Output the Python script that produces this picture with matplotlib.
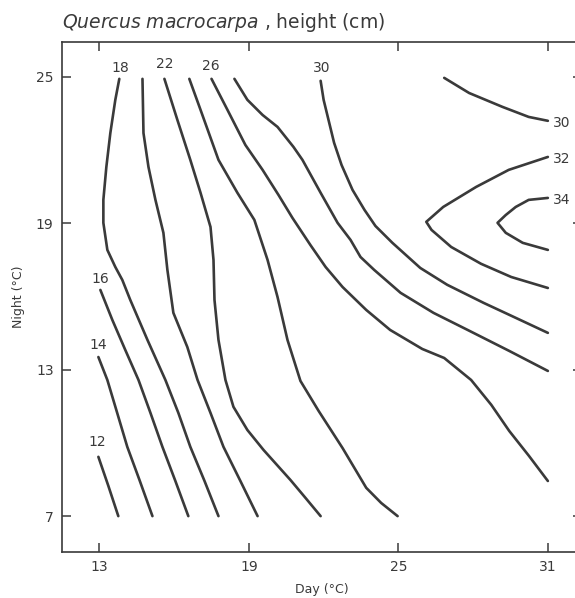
import numpy as np
import matplotlib
matplotlib.use('Agg')
import matplotlib.pyplot as plt

# contour lines of height (cm): day temp (x), night temp (y)
c12_day = [12.96, 13.36, 13.76]
c12_night = [9.43, 8.24, 7.0]

c14_day = [12.96, 13.32, 13.68, 14.12, 14.61, 15.13]
c14_night = [13.52, 12.58, 11.35, 9.84, 8.48, 7.0]

c16_day = [13.04, 13.52, 14.04, 14.57, 15.05, 15.53, 16.05, 16.57]
c16_night = [16.27, 15.04, 13.81, 12.58, 11.23, 9.84, 8.44, 7.0]

c18_day = [13.80, 13.64, 13.44, 13.28, 13.16, 13.16, 13.32, 13.64, 13.92, 14.24,
           14.93, 15.65, 16.17, 16.65, 17.22, 17.78]
c18_night = [24.92, 24.06, 22.70, 21.31, 19.96, 19.02, 17.91, 17.21, 16.68, 15.86,
             14.22, 12.58, 11.23, 9.84, 8.44, 7.0]

c20_day = [14.73, 14.77, 14.97, 15.25, 15.57, 15.73, 15.97, 16.53, 16.94, 17.46,
           17.98, 18.66, 19.35]
c20_night = [24.92, 22.70, 21.31, 19.96, 18.61, 17.09, 15.33, 13.93, 12.58, 11.23,
             9.84, 8.44, 7.0]

c22_day = [15.61, 16.13, 16.65, 17.06, 17.46, 17.58, 17.62, 17.78, 18.06, 18.38,
           18.94, 19.59, 20.67, 21.27, 21.88]
c22_night = [24.92, 23.24, 21.60, 20.25, 18.85, 17.50, 15.86, 14.22, 12.58, 11.48,
             10.53, 9.71, 8.48, 7.75, 7.0]

c24_day = [16.61, 17.06, 17.78, 18.54, 19.22, 19.75, 20.15, 20.55, 21.07, 21.80,
           22.76, 23.71, 24.31, 24.97]
c24_night = [24.92, 23.65, 21.60, 20.25, 19.14, 17.50, 15.98, 14.22, 12.54, 11.31,
             9.79, 8.16, 7.54, 7.0]

c26_day = [17.50, 18.14, 18.86, 19.55, 20.19, 20.75, 21.47, 22.08, 22.76, 23.71,
           24.67, 25.96, 26.84, 27.92, 28.73, 29.45, 30.24, 31.0]
c26_night = [24.92, 23.65, 22.21, 21.19, 20.16, 19.22, 18.11, 17.21, 16.39, 15.45,
             14.63, 13.85, 13.48, 12.58, 11.56, 10.49, 9.47, 8.44]

c28_day = [18.42, 18.94, 19.55, 20.15, 20.79, 21.15, 21.88, 22.56, 23.08, 23.48,
           24.03, 25.09, 26.41, 27.78, 29.45, 31.0]
c28_night = [24.92, 24.06, 23.44, 22.95, 22.13, 21.60, 20.25, 19.02, 18.32, 17.62,
             17.09, 16.15, 15.33, 14.63, 13.77, 12.95]

c30_day = [21.88, 22.00, 22.42, 22.72, 23.16, 23.64, 24.08, 24.76, 25.88, 26.96,
           28.42, 29.45, 31.0]
c30_night = [24.84, 24.06, 22.30, 21.39, 20.37, 19.55, 18.89, 18.20, 17.17, 16.48,
             15.74, 15.25, 14.51]

c30b_day = [26.84, 27.84, 29.18, 30.23, 31.0]
c30b_night = [24.96, 24.34, 23.77, 23.36, 23.20]

c32_day = [31.0, 29.43, 28.12, 26.80, 26.12, 26.33, 27.12, 28.32, 29.53, 31.0]
c32_night = [21.72, 21.19, 20.49, 19.67, 19.06, 18.73, 18.03, 17.34, 16.80, 16.35]

c34_day = [31.0, 30.23, 29.71, 29.31, 28.98, 29.31, 29.99, 31.0]
c34_night = [20.04, 19.96, 19.67, 19.34, 19.02, 18.61, 18.20, 17.91]

# contour labels (text, day, night)
label_text = ['18', '22', '26', '30', '16', '14', '12']
label_day = [13.84, 15.61, 17.46, 21.92, 13.04, 12.96, 12.92]
label_night = [25.37, 25.53, 25.45, 25.37, 16.72, 14.02, 10.04]

right_text = ['30', '32', '34']
right_night = [23.11, 21.64, 19.96]

ticks = [13, 19, 25, 31]
yticks = [7, 13, 19, 25]

ink = '#3a3a3a'

fig = plt.figure(figsize=(5.75, 5.98), dpi=100)
ax = fig.add_axes([62 / 575., 46 / 598., 520 / 575., 510 / 598.])

lines = [(c12_day, c12_night), (c14_day, c14_night), (c16_day, c16_night),
         (c18_day, c18_night), (c20_day, c20_night), (c22_day, c22_night),
         (c24_day, c24_night), (c26_day, c26_night), (c28_day, c28_night),
         (c30_day, c30_night), (c30b_day, c30b_night), (c32_day, c32_night),
         (c34_day, c34_night)]
for d, n in lines:
    ax.plot(d, n, color=ink, lw=1.9, solid_joinstyle='round', solid_capstyle='round')

for t, d, n in zip(label_text, label_day, label_night):
    ax.text(d, n, t, ha='center', va='center', fontsize=10, color=ink)
for t, n in zip(right_text, right_night):
    ax.text(31.2, n, t, ha='left', va='center', fontsize=10, color=ink, clip_on=False)

ax.set_xlim(11.5, 32.37)
ax.set_ylim(5.53, 26.43)
ax.set_xticks(ticks)
ax.set_yticks(yticks)
ax.tick_params(direction='in', length=6.5, width=1.1, colors=ink, labelsize=10,
               top=True, right=True, pad=6)
for s in ax.spines.values():
    s.set_color(ink)
    s.set_linewidth(1.2)

ax.set_xlabel('Day (°C)', fontsize=9, color=ink, labelpad=6)
ax.set_ylabel('Night (°C)', fontsize=9, color=ink, labelpad=8)

fig.text(62 / 575., 1 - 22 / 598., r'$\it{Quercus\ macrocarpa}$ , height (cm)',
         fontsize=13.5, color=ink, ha='left', va='center')

fig.savefig('out.png', dpi=100)
